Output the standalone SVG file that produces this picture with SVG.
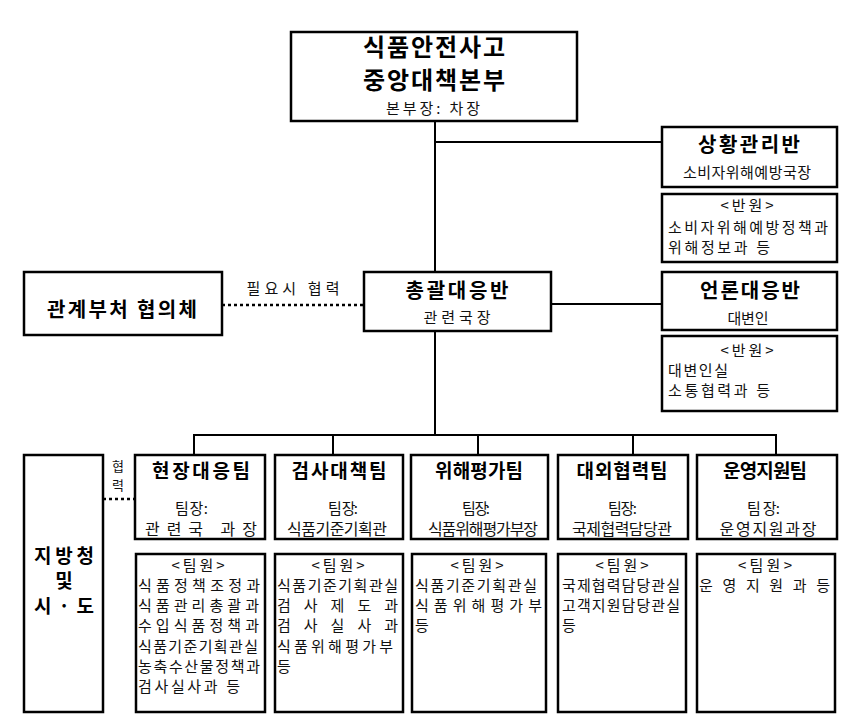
<svg xmlns="http://www.w3.org/2000/svg" width="860" height="723" viewBox="0 0 860 723">
<style>
.box{fill:#fff;stroke:#000;stroke-width:2.5}
.ln{stroke:#000;stroke-width:2;fill:none}
.dot{stroke:#000;stroke-width:2.5;stroke-dasharray:3 3;fill:none}
text{font-family:"Noto Sans CJK KR","Noto Sans",sans-serif;fill:#000}
.h1{font-size:24px;font-weight:bold;text-anchor:middle}
.h2{font-size:20px;font-weight:bold;text-anchor:middle}
.h3{font-size:19px;font-weight:bold;text-anchor:middle}
.s{font-size:15px;fill:#111}
.t{font-size:16px;fill:#111;text-anchor:middle}
.m{text-anchor:middle}
</style>
<rect width="860" height="723" fill="#fff"/>
<g id="connectors">
<line class="ln" x1="435" y1="121" x2="435" y2="272"/>
<line class="ln" x1="435" y1="142" x2="662" y2="142"/>
<line class="ln" x1="435" y1="331" x2="435" y2="435"/>
<line class="ln" x1="551" y1="304" x2="662" y2="304"/>
<line class="dot" x1="222" y1="305" x2="364" y2="305"/>
<line class="ln" x1="193" y1="435" x2="777" y2="435"/>
<line class="ln" x1="194" y1="434" x2="194" y2="455"/>
<line class="ln" x1="333" y1="434" x2="333" y2="455"/>
<line class="ln" x1="478" y1="434" x2="478" y2="455"/>
<line class="ln" x1="633" y1="434" x2="633" y2="455"/>
<line class="ln" x1="776" y1="434" x2="776" y2="455"/>
<line class="dot" x1="103" y1="499" x2="135" y2="499"/>
<text class="s m" x="293" y="294" textLength="93">필요시 협력</text>
<text class="m" x="118" y="471" style="font-size:13px;fill:#111">협</text>
<text class="m" x="118" y="490" style="font-size:13px;fill:#111">력</text>
</g>
<g id="hq">
<rect class="box" x="291" y="32" width="286" height="89"/>
<text class="h1" x="434" y="56" textLength="142">식품안전사고</text>
<text class="h1" x="434" y="89" textLength="142">중앙대책본부</text>
<text class="s m" x="433" y="114" textLength="94">본부장: 차장</text>
</g>
<g id="situation">
<rect class="box" x="662" y="127" width="175" height="60"/>
<text class="h2" x="749" y="152" textLength="102">상황관리반</text>
<text class="s m" x="747" y="178" textLength="128">소비자위해예방국장</text>
</g>
<g id="situation-members">
<rect class="box" x="662" y="194" width="175" height="68"/>
<text class="s m" x="747" y="211" textLength="53">&lt;반원&gt;</text>
<text class="s" x="668" y="233" textLength="160">소비자위해예방정책과</text>
<text class="s" x="668" y="253" textLength="102">위해정보과  등</text>
</g>
<g id="general">
<rect class="box" x="364" y="272" width="187" height="59"/>
<text class="h2" x="457" y="298" textLength="103">총괄대응반</text>
<text class="s m" x="457" y="323" textLength="67">관련국장</text>
</g>
<g id="ministries">
<rect class="box" x="24" y="272" width="198" height="63"/>
<text class="h2" x="122" y="317" textLength="150">관계부처 협의체</text>
</g>
<g id="press">
<rect class="box" x="662" y="272" width="175" height="58"/>
<text class="h2" x="750" y="298" textLength="100">언론대응반</text>
<text class="s m" x="748" y="324" textLength="41">대변인</text>
</g>
<g id="press-members">
<rect class="box" x="662" y="336" width="175" height="75"/>
<text class="s m" x="747" y="356" textLength="53">&lt;반원&gt;</text>
<text class="s" x="668" y="376" textLength="60">대변인실</text>
<text class="s" x="668" y="396" textLength="102">소통협력과  등</text>
</g>
<g id="local">
<rect class="box" x="24" y="455" width="79" height="257"/>
<text class="h2" x="64" y="563" textLength="60" style="font-size:19px">지방청</text>
<text class="h2" x="64" y="588" style="font-size:19px">및</text>
<text class="h2" x="64" y="613" textLength="60" style="font-size:19px">시 · 도</text>
</g>
<g id="team1">
<rect class="box" x="135" y="455" width="130" height="84"/>
<text class="h3" x="201" y="478" textLength="98">현장대응팀</text>
<text class="s" x="175" y="514" textLength="33">팀장:</text>
<text class="t" x="201" y="535" textLength="112">관련국 과장</text>
</g>
<g id="team2">
<rect class="box" x="275" y="455" width="128" height="84"/>
<text class="h3" x="339" y="478" textLength="95">검사대책팀</text>
<text class="s" x="328" y="514" textLength="30">팀 장:</text>
<text class="t" x="337" y="535" textLength="100">식품기준기획관</text>
</g>
<g id="team3">
<rect class="box" x="411" y="455" width="137" height="84"/>
<text class="h3" x="479" y="478" textLength="88">위해평가팀</text>
<text class="s" x="462" y="514" textLength="28">팀 장:</text>
<text class="t" x="483" y="535" textLength="110">식품위해평가부장</text>
</g>
<g id="team4">
<rect class="box" x="558" y="455" width="130" height="84"/>
<text class="h3" x="622" y="478" textLength="91">대외협력팀</text>
<text class="s" x="608" y="514" textLength="29">팀장:</text>
<text class="t" x="622" y="535" textLength="100">국제협력담당관</text>
</g>
<g id="team5">
<rect class="box" x="697" y="455" width="140" height="84"/>
<text class="h3" x="765" y="478" textLength="84">운영지원팀</text>
<text class="s" x="747" y="514" textLength="33">팀 장:</text>
<text class="t" x="768" y="535" textLength="97">운영지원과장</text>
</g>
<g id="members1">
<rect class="box" x="136" y="554" width="129" height="158"/>
<text class="s m" x="198" y="571" textLength="53">&lt;팀원&gt;</text>
<text class="s" x="138" y="591" textLength="122">식품정책조정과</text>
<text class="s" x="138" y="611" textLength="121">식품관리총괄과</text>
<text class="s" x="138" y="631" textLength="121">수입식품정책과</text>
<text class="s" x="138" y="652" textLength="120">식품기준기획관실</text>
<text class="s" x="138" y="672" textLength="122">농축수산물정책과</text>
<text class="s" x="138" y="692" textLength="102">검사실사과  등</text>
</g>
<g id="members2">
<rect class="box" x="275" y="554" width="128" height="158"/>
<text class="s m" x="338" y="571" textLength="53">&lt;팀원&gt;</text>
<text class="s" x="277" y="591" textLength="121">식품기준기획관실</text>
<text class="s" x="277" y="611" textLength="121">검 사 제 도 과</text>
<text class="s" x="277" y="631" textLength="121">검 사 실 사 과</text>
<text class="s" x="277" y="652" textLength="116">식품위해평가부</text>
<text class="s" x="277" y="672">등</text>
</g>
<g id="members3">
<rect class="box" x="412" y="554" width="134" height="158"/>
<text class="s m" x="477" y="571" textLength="53">&lt;팀원&gt;</text>
<text class="s" x="415" y="591" textLength="122">식품기준기획관실</text>
<text class="s" x="415" y="611" textLength="127">식 품 위 해 평 가 부</text>
<text class="s" x="415" y="631">등</text>
</g>
<g id="members4">
<rect class="box" x="558" y="554" width="128" height="158"/>
<text class="s m" x="622" y="571" textLength="53">&lt;팀원&gt;</text>
<text class="s" x="562" y="591" textLength="118">국제협력담당관실</text>
<text class="s" x="562" y="611" textLength="118">고객지원담당관실</text>
<text class="s" x="562" y="631">등</text>
</g>
<g id="members5">
<rect class="box" x="697" y="554" width="138" height="158"/>
<text class="s m" x="765" y="571" textLength="54">&lt;팀원&gt;</text>
<text class="s" x="699" y="591" textLength="131">운 영 지 원 과    등</text>
</g>
</svg>
